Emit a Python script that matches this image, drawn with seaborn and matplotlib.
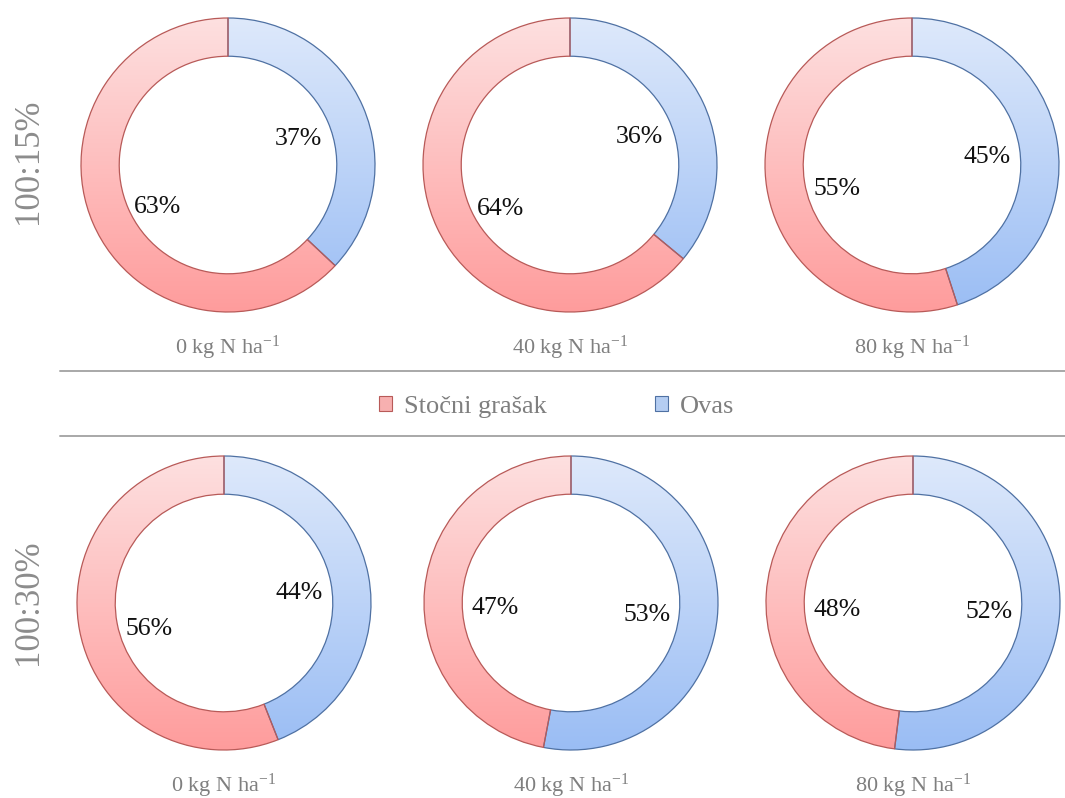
import numpy as np
import matplotlib
matplotlib.use("Agg")
import matplotlib.pyplot as plt
from matplotlib.lines import Line2D
from matplotlib.patches import Patch
import seaborn as sns

# Data
doses = ['0 kg N ha$^{-1}$', '40 kg N ha$^{-1}$', '80 kg N ha$^{-1}$']
ratios = ['100:15%', '100:30%']
species = ['Stočni grašak', 'Ovas']
grasak_15 = [63, 64, 55]
ovas_15 = [37, 36, 45]
grasak_30 = [56, 47, 48]
ovas_30 = [44, 53, 52]

sns.set_theme(style="white")
plt.rcParams['font.family'] = ['Liberation Serif', 'DejaVu Serif']
plt.rcParams['mathtext.fontset'] = 'custom'
plt.rcParams['mathtext.rm'] = 'Liberation Serif'
plt.rcParams['mathtext.it'] = 'Liberation Serif:italic'
plt.rcParams['mathtext.bf'] = 'Liberation Serif:bold'

W, H = 1065, 798
fig = plt.figure(figsize=(W / 100, H / 100), dpi=100)
fig.patch.set_facecolor('white')

# gradient colormaps (light at top, darker at bottom)
pink_cmap = sns.blend_palette(['#fde0e0', '#ff9c9c'], as_cmap=True)
blue_cmap = sns.blend_palette(['#dee9fb', '#9abdf4'], as_cmap=True)
pink_edge = '#b85a58'
blue_edge = '#4f71a3'

R = 147  # outer radius in px
pad = 1.03
centers = [
    ([228, 570, 912], 165),
    ([224, 571, 913], 603),
]
label_y = [348, 786]
row_label_y = [161, 602]
rows = [(grasak_15, ovas_15), (grasak_30, ovas_30)]

grad = np.linspace(0, 1, 256).reshape(-1, 1)

for r, (gr, ov) in enumerate(rows):
    xs, cy = centers[r]
    for c in range(3):
        cx = xs[c]
        size = 2 * R * pad
        ax = fig.add_axes([(cx - size / 2) / W, 1 - (cy + size / 2) / H, size / W, size / H])
        wedges, texts, autotexts = ax.pie(
            [ov[c], gr[c]], startangle=90, counterclock=False,
            radius=1, autopct='%1.0f%%', pctdistance=0.52,
            wedgeprops=dict(width=0.26, linewidth=0.9),
            textprops=dict(fontsize=18.5, color='#111111'))
        for w, cmap, ec in zip(wedges, [blue_cmap, pink_cmap], [blue_edge, pink_edge]):
            w.set_facecolor('none')
            w.set_edgecolor(ec)
            w.set_zorder(3)
            im = ax.imshow(grad, cmap=cmap, extent=[-1, 1, -1, 1], origin='upper',
                           aspect='auto', zorder=2, interpolation='bilinear')
            im.set_clip_path(w)
        # nudge labels down a little, as in the original
        for t, dy in zip(autotexts, [0.03, 0.08]):
            x0, y0 = t.get_position()
            t.set_position((x0, y0 - dy))
            t.set_zorder(4)
        ax.set_xlim(-pad, pad)
        ax.set_ylim(-pad, pad)
        ax.set_aspect('equal')
        ax.axis('off')
        fig.text(cx / W, 1 - label_y[r] / H, doses[c], ha='center', va='center',
                 fontsize=16, color='#7f7f7f')
    fig.text(29 / W, 1 - row_label_y[r] / H, ratios[r], rotation=90, ha='center', va='center',
             fontsize=25, color='#8c8c8c')

# separator lines around the legend
for y in [371, 436]:
    fig.add_artist(Line2D([60 / W, 1], [1 - y / H, 1 - y / H], color='#a8a8a8', lw=1.4))

handles = [Patch(facecolor='#f7b0b0', edgecolor=pink_edge, lw=0.8),
           Patch(facecolor='#b4cdf2', edgecolor=blue_edge, lw=0.8)]
fig.legend(handles, species, loc='center', bbox_to_anchor=(557 / W, 1 - 407 / H),
           ncol=2, frameon=False, fontsize=19, labelcolor='#7f7f7f',
           handlelength=0.5, handleheight=0.5, handletextpad=0.45, columnspacing=4.1)

fig.savefig('out.png', dpi=100, facecolor='white')
